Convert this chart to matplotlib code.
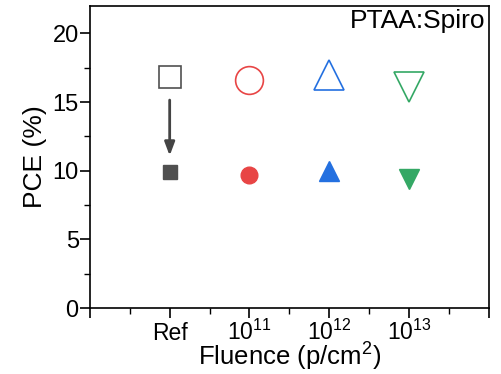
import numpy as np
import matplotlib.pyplot as plt

plt.rcParams['font.family'] = ['Liberation Sans', 'DejaVu Sans']
plt.rcParams['mathtext.fontset'] = 'custom'
plt.rcParams['mathtext.rm'] = 'Liberation Sans'
plt.rcParams['mathtext.it'] = 'Liberation Sans:italic'
plt.rcParams['mathtext.bf'] = 'Liberation Sans:bold'

# PCE before (open) and after (filled) irradiation for each fluence
labels = ['', 'Ref', r'$\mathrm{10^{11}}$', r'$\mathrm{10^{12}}$', r'$\mathrm{10^{13}}$', '']
pos = [1, 2, 3, 4]
pce_before = [16.8, 16.6, 17.0, 16.1]
pce_after = [9.9, 9.7, 10.0, 9.4]
colors = ['#505050', '#e84545', '#2470e0', '#34a865']
markers = ['s', 'o', '^', 'v']
size_open = [16, 20, 22, 21]
size_filled = [10, 12, 14, 14]

fig = plt.figure(figsize=(5.02, 3.74), dpi=100)
ax = fig.add_axes([0.179, 0.176, 0.795, 0.808])

for x, y0, y1, c, m, s0, s1 in zip(pos, pce_before, pce_after, colors, markers, size_open, size_filled):
    ax.plot(x, y0, marker=m, ms=s0, mfc='none', mec=c, mew=1.2, ls='none')
    ax.plot(x, y1, marker=m, ms=s1, mfc=c, mec=c, ls='none')

# arrow on the reference device
ax.annotate('', xy=(pos[0], 11.1), xytext=(pos[0], 15.15),
            arrowprops=dict(arrowstyle='-|>,head_length=0.8,head_width=0.3',
                            color='#444444', lw=2, shrinkA=0, shrinkB=0))

ax.set_xlim(0, 5)
ax.set_ylim(0, 22)
ax.set_xticks(range(6))
ax.set_xticklabels(labels)
ax.set_xticks(np.arange(0.5, 5, 1), minor=True)
ax.set_yticks([0, 5, 10, 15, 20])
ax.set_yticks(np.arange(2.5, 22, 5), minor=True)
ax.tick_params(direction='out', length=7, width=1.2)
ax.tick_params(axis='y', labelsize=17, pad=1)
ax.tick_params(axis='x', labelsize=16.5, pad=16)
ax.tick_params(which='minor', direction='out', length=4, width=1)
# put "Ref" and the powers of ten on one baseline
for lab in ax.get_xticklabels():
    lab.set_verticalalignment('baseline')
for sp in ax.spines.values():
    sp.set_linewidth(1.2)

ax.set_ylabel('PCE (%)', fontsize=19, labelpad=4)
ax.set_xlabel(r'Fluence (p/cm$^\mathrm{2}$)', fontsize=18.5, va='baseline')
ax.xaxis.set_label_coords(0.5, -0.19)
ax.text(0.992, 0.99, 'PTAA:Spiro', transform=ax.transAxes, ha='right', va='top', fontsize=19)

fig.savefig('out.png', dpi=100)
